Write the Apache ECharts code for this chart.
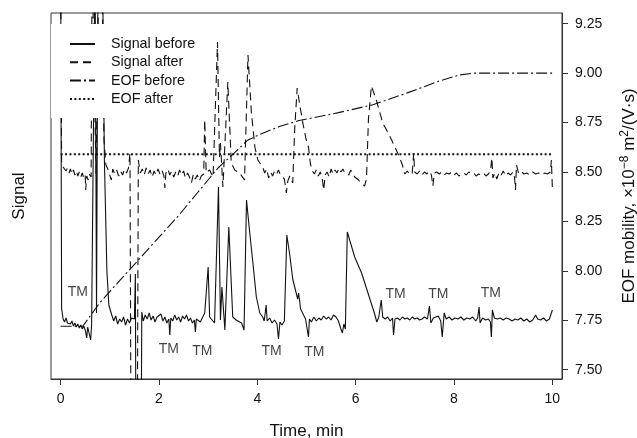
<!DOCTYPE html>
<html>
<head>
<meta charset="utf-8">
<script src="https://cdn.jsdelivr.net/npm/echarts@6/dist/echarts.min.js"></script>
<style>html,body{margin:0;padding:0;background:#fff;}#c{width:637px;height:438px;}</style>
</head>
<body>
<div id="c"></div>
<script>
// ---- Data (time in min; signal in arbitrary units; EOF mobility in 1e-8 m2/(V s)) ----
const xTicks = [0, 2, 4, 6, 8, 10];
const eofTicks = [7.5, 7.75, 8.0, 8.25, 8.5, 8.75, 9.0, 9.25];

const signalBefore = [
[0,420],[0.02,70],[0.05,60],[0.08,57],[0.11,61],[0.14,56],[0.17,58],[0.20,55],[0.23,58],[0.26,53],[0.29,56],[0.32,52],[0.35,55],[0.38,51],[0.41,54],[0.44,50],[0.47,53],[0.50,49],[0.53,41],[0.55,52],[0.58,50],[0.61,39],[0.63,54],
[0.70,420],[0.73,66],[0.76,420],[0.85,420],[0.89,219],[0.94,109],[0.98,74],[1.04,64],[1.08,58],[1.12,63],[1.16,55],[1.20,60],[1.24,57],[1.28,62],[1.32,54],[1.36,60],[1.40,56],[1.44,61],[1.50,60],[1.52,105],[1.53,-50],[1.64,-50],[1.65,67],
[1.68,58],[1.72,64],[1.76,60],[1.80,66],[1.84,59],[1.88,63],[1.92,57],[1.96,62],[2.00,60],[2.04,65],[2.08,58],[2.12,62],[2.16,56],[2.20,60],[2.22,44],[2.24,61],[2.28,58],[2.32,64],[2.36,59],[2.40,62],[2.44,57],[2.48,63],[2.52,60],[2.56,64],[2.60,58],[2.64,61],[2.68,56],[2.72,59],[2.74,47],[2.76,60],[2.80,62],[2.84,57],[2.88,61],
[2.93,66],[3.00,112],[3.03,62],[3.13,56],[3.21,192],[3.25,59],[3.28,92],[3.34,49],[3.42,152],[3.50,62],[3.57,59],[3.68,56],[3.73,49],[3.78,179],[3.84,149],[3.91,116],[3.98,82],[4.05,66],[4.11,62],
[4.14,58],[4.18,74],[4.20,58],[4.25,61],[4.30,56],[4.35,59],[4.40,55],[4.43,40],[4.46,57],[4.50,54],[4.55,58],[4.60,144],[4.66,124],[4.72,100],[4.78,88],[4.82,80],[4.84,86],[4.88,70],[4.94,64],[4.98,60],[5.02,62],[5.04,42],[5.06,60],
[5.10,57],[5.15,62],[5.20,58],[5.25,61],[5.30,59],[5.35,63],[5.40,60],[5.45,62],[5.50,59],[5.55,64],[5.60,62],[5.65,58],[5.70,50],[5.73,46],[5.76,55],[5.79,50],[5.83,147],[5.98,122],[6.12,106],[6.25,86],[6.38,66],[6.43,57],
[6.47,62],[6.52,79],[6.55,62],[6.60,60],[6.65,62],[6.70,58],[6.75,61],[6.77,44],[6.80,60],[6.85,61],[6.90,59],[6.95,62],[7.00,60],[7.05,61],[7.10,59],[7.15,62],[7.20,60],[7.25,61],[7.30,59],[7.35,60],[7.40,62],[7.46,60],[7.50,73],[7.53,56],
[7.58,61],[7.62,59],[7.68,63],[7.73,58],[7.76,42],[7.80,66],[7.84,60],[7.90,62],[7.96,59],[8.02,61],[8.08,60],[8.14,62],[8.20,59],[8.26,61],[8.32,60],[8.38,62],[8.44,58],[8.48,61],[8.51,72],[8.53,56],[8.58,61],[8.64,59],[8.70,60],[8.74,57],
[8.76,42],[8.78,69],[8.82,61],[8.88,60],[8.94,61],[9.00,59],[9.06,61],[9.12,60],[9.18,58],[9.24,60],[9.30,59],[9.36,61],[9.42,58],[9.48,60],[9.54,57],[9.60,59],[9.66,64],[9.70,60],[9.76,59],[9.82,61],[9.88,58],[9.94,60],[9.98,58],[10.0,69]
];

const signalAfter = [
[0,420],[0.02,216],[0.05,212],[0.08,214],[0.11,208],[0.14,211],[0.17,206],[0.20,210],[0.23,205],[0.26,209],[0.29,204],[0.32,208],[0.35,203],[0.38,207],[0.41,202],[0.44,206],[0.47,201],[0.50,204],[0.51,189],[0.53,203],[0.56,199],[0.58,205],[0.62,202],
[0.64,420],[0.68,420],[0.72,205],[0.78,420],[0.84,420],[0.88,240],[0.92,214],[0.96,210],[1.00,212],[1.03,199],[1.06,210],[1.10,205],[1.14,209],[1.18,203],[1.22,208],[1.26,204],[1.30,210],[1.34,206],[1.38,211],[1.41,226],[1.43,-50],[1.56,-50],[1.58,219],[1.62,206],
[1.66,210],[1.70,204],[1.74,211],[1.78,205],[1.82,209],[1.86,202],[1.90,208],[1.94,204],[1.98,210],[2.02,205],[2.06,209],[2.10,203],[2.12,191],[2.14,206],[2.18,210],[2.22,204],[2.26,208],[2.30,202],[2.34,207],[2.38,203],[2.42,209],[2.46,204],[2.50,208],[2.54,201],[2.58,206],[2.62,202],[2.66,196],[2.70,205],[2.74,200],[2.78,204],[2.82,198],[2.86,203],
[2.91,205],[2.93,259],[2.96,206],[3.03,209],[3.10,202],[3.19,337],[3.23,222],[3.25,236],[3.30,192],[3.40,297],[3.47,216],[3.54,209],[3.64,206],[3.74,199],[3.81,324],[3.88,266],[3.95,232],[4.01,219],[4.11,212],
[4.15,206],[4.19,210],[4.23,201],[4.27,207],[4.31,203],[4.35,208],[4.39,205],[4.43,209],[4.47,204],[4.51,206],[4.55,200],[4.59,186],[4.62,198],[4.66,203],[4.72,196],[4.76,250],[4.81,291],[4.87,272],[4.93,255],[4.99,240],[5.04,232],[5.08,215],[5.12,208],
[5.16,205],[5.20,209],[5.24,203],[5.28,207],[5.32,201],[5.35,189],[5.38,204],[5.42,207],[5.46,202],[5.50,210],[5.54,205],[5.58,209],[5.62,206],[5.66,211],[5.70,207],[5.74,210],[5.78,206],[5.82,208],[5.86,204],[5.90,209],[5.94,205],[5.98,202],[6.02,204],[6.06,199],[6.10,196],[6.14,198],[6.18,193],[6.22,200],[6.26,260],[6.32,293],
[6.42,279],[6.55,256],[6.66,246],[6.76,236],[6.89,222],[6.95,214],[7.00,205],[7.05,208],[7.10,204],[7.15,206],[7.18,226],[7.20,207],[7.25,205],[7.30,208],[7.35,204],[7.40,207],[7.45,205],[7.50,208],[7.54,204],[7.57,193],[7.60,206],[7.65,207],
[7.70,205],[7.75,207],[7.80,204],[7.85,206],[7.90,205],[7.95,207],[8.00,204],[8.05,206],[8.10,203],[8.15,205],[8.20,206],[8.25,204],[8.30,207],[8.35,205],[8.40,206],[8.45,203],[8.50,205],[8.55,204],[8.60,206],[8.65,203],[8.70,205],[8.74,208],[8.77,221],[8.79,201],[8.83,206],[8.87,200],[8.92,207],[8.96,204],
[9.00,208],[9.05,203],[9.10,206],[9.15,204],[9.20,207],[9.23,202],[9.25,189],[9.27,214],[9.31,206],[9.36,208],[9.42,205],[9.48,206],[9.54,204],[9.60,207],[9.66,205],[9.72,206],[9.78,204],[9.84,206],[9.90,205],[9.96,207],[9.98,219],[10.0,191]
];

const eofBefore = [
[0,7.72],[0.45,7.72],[0.8,7.84],[1.2,7.95],[1.6,8.06],[2.0,8.17],[2.4,8.28],[2.8,8.40],[3.2,8.52],[3.55,8.60],[3.8,8.66],[4.05,8.69],[4.45,8.73],[4.85,8.76],[5.65,8.80],[6.35,8.84],[7.05,8.90],[7.7,8.96],[8.1,8.99],[8.4,9.0],[10,9.0]
];
const eofAfter = [[0,8.59],[10,8.59]];

const tmLabels = [[0.35,87],[2.20,30],[2.88,28],[4.29,28],[5.16,27],[6.81,85],[7.68,85],[8.75,86]];

// ---- Chart ----
const FONT = 'Liberation Sans, Arial, Helvetica, sans-serif';
const NOSYM = {color: 'rgba(0,0,0,0)', borderWidth: 0};
const chart = echarts.init(document.getElementById('c'), null, {renderer: 'canvas'});
chart.setOption({
  animation: false,
  backgroundColor: '#fff',
  grid: {left: 51, right: 75, top: 13, bottom: 59, outerBoundsMode: 'none', containLabel: false,
    show: true, borderColor: '#333', borderWidth: 1, backgroundColor: 'transparent'},
  legend: {
    orient: 'vertical', left: 51, top: 24, padding: [13, 12, 12, 18], itemGap: 4.3, itemWidth: 25, itemHeight: 14,
    backgroundColor: '#fff', z: 10,
    textStyle: {fontSize: 14.3, color: '#111', fontFamily: FONT, padding: [0, 0, 0, 11]},
    data: ['Signal before', 'Signal after', 'EOF before', 'EOF after']
  },
  xAxis: {
    type: 'value', min: -0.196, max: 10.196,
    name: 'Time, min', nameLocation: 'middle', nameGap: 44,
    nameTextStyle: {fontSize: 17, color: '#111', fontFamily: FONT},
    axisLine: {show: true, lineStyle: {color: '#333'}},
    axisTick: {show: true, inside: false, length: 6, customValues: xTicks, lineStyle: {color: '#333'}},
    axisLabel: {customValues: xTicks, margin: 13, fontSize: 14, color: '#111', fontFamily: FONT, formatter: v => String(Math.round(v))},
    splitLine: {show: false}
  },
  yAxis: [
    {
      type: 'value', position: 'left', min: 0, max: 366,
      name: 'Signal', nameLocation: 'middle', nameGap: 23, nameRotate: 90,
      nameTextStyle: {fontSize: 17, color: '#111', fontFamily: FONT},
      axisLine: {show: false}, axisTick: {show: false}, axisLabel: {show: false}, splitLine: {show: false}
    },
    {
      type: 'value', position: 'right', min: 7.453, max: 9.304,
      name: '{a|EOF mobility, ×10}{s|−8}{a| m}{s|2}{a|/(V·s)}', nameLocation: 'middle', nameGap: 57, nameRotate: 90,
      nameTextStyle: {fontSize: 17, color: '#111', fontFamily: FONT,
        rich: {a: {fontSize: 17, color: '#111', fontFamily: FONT, lineHeight: 20}, s: {fontSize: 12, color: '#111', fontFamily: FONT, verticalAlign: 'top', lineHeight: 2}}},
      axisLine: {show: true, lineStyle: {color: '#333'}},
      axisTick: {show: true, inside: false, length: 6, customValues: eofTicks, lineStyle: {color: '#333'}},
      axisLabel: {customValues: eofTicks, margin: 13, fontSize: 14, color: '#111', fontFamily: FONT, formatter: v => v.toFixed(2)},
      splitLine: {show: false}
    }
  ],
  series: [
    {name: 'Signal before', type: 'line', yAxisIndex: 0, data: signalBefore, symbol: 'none', clip: true,
      lineStyle: {color: '#111', width: 1.1, type: 'solid'}, itemStyle: NOSYM, z: 3},
    {name: 'Signal after', type: 'line', yAxisIndex: 0, data: signalAfter, symbol: 'none', clip: true,
      lineStyle: {color: '#111', width: 1.1, type: [8, 5]}, itemStyle: NOSYM, z: 3},
    {name: 'EOF before', type: 'line', yAxisIndex: 1, data: eofBefore, symbol: 'none', clip: true,
      lineStyle: {color: '#111', width: 1.1, type: [11, 3, 2, 3]}, itemStyle: NOSYM, z: 3},
    {name: 'EOF after', type: 'line', yAxisIndex: 1, data: eofAfter, symbol: 'none', clip: true,
      lineStyle: {color: '#111', width: 2, type: [2, 2.4]}, itemStyle: NOSYM, z: 3},
    {name: 'TM', type: 'scatter', yAxisIndex: 0, data: tmLabels, symbolSize: 1, itemStyle: {color: 'rgba(0,0,0,0)'},
      label: {show: true, position: 'inside', formatter: 'TM', fontSize: 14, color: '#111', fontFamily: FONT}, z: 5}
  ]
});
</script>
</body>
</html>
